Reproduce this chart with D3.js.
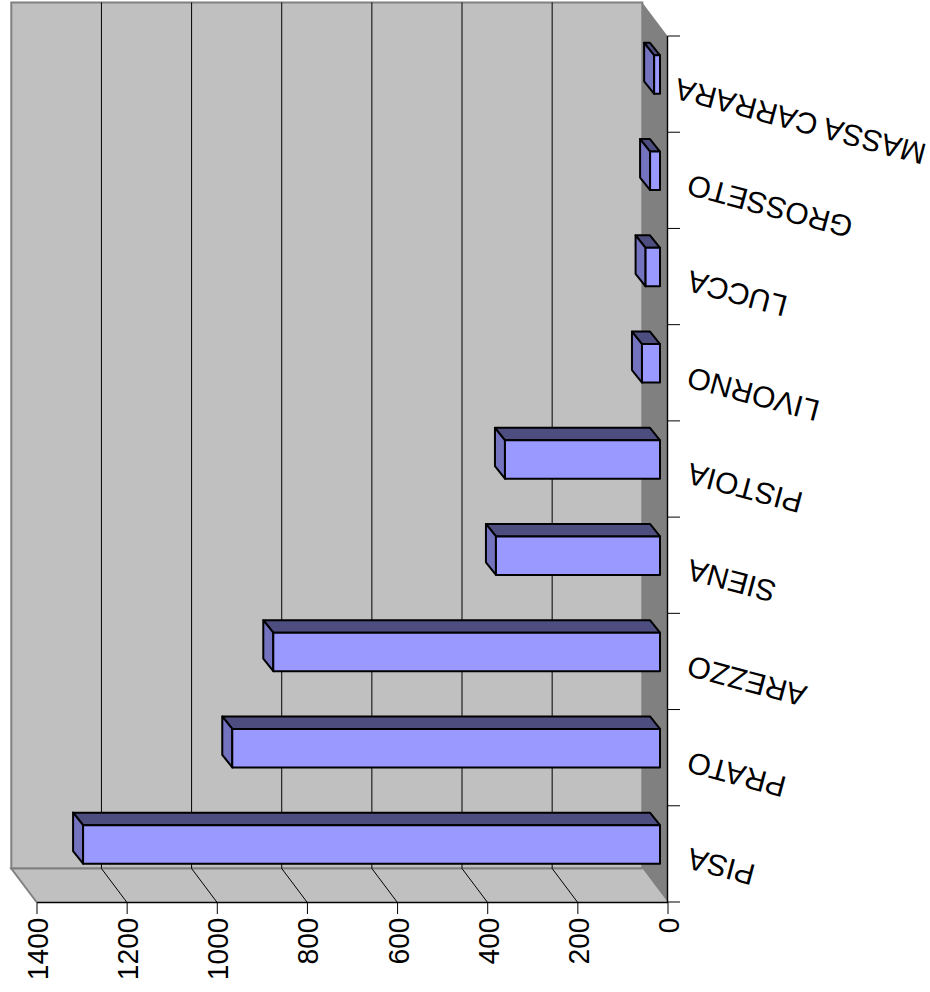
<!DOCTYPE html>
<html>
<head>
<meta charset="utf-8">
<script src="https://cdn.jsdelivr.net/npm/d3@7"></script>
<style>
  html, body { margin: 0; padding: 0; background: #fff; }
  svg { display: block; }
  text { font-family: "Liberation Sans", Arial, sans-serif; fill: #000; }
</style>
</head>
<body>
<div id="chart"></div>
<script>
var categories = ['PISA', 'PRATO', 'AREZZO', 'SIENA', 'PISTOIA', 'LIVORNO', 'LUCCA', 'GROSSETO', 'MASSA CARRARA'];
var values = [1280, 949, 858, 364, 344, 40, 32, 22, 13];
var valueTicks = [0, 200, 400, 600, 800, 1000, 1200, 1400];

var width = 930, height = 992;
var floorY = 902, topY = 36;
// depth of the 3d box, and of the bars inside it
var depthX = -25.2, depthY = -33.5;
var barShiftX = -7.5, barShiftY = -9.5;
var barDepthX = -10, barDepthY = -12.5;

var x = d3.scaleLinear().domain([0, 1400]).range([667.5, 36.5]);
var y = d3.scaleBand().domain(categories).range([floorY, topY]).paddingInner(0.6).paddingOuter(0.3);
var step = y.step();

var svg = d3.select('#chart').append('svg').attr('width', width).attr('height', height);

function pts(a) {
    return a.map(function (p) { return p.join(','); }).join(' ');
}

// walls and floor
var left = x(1400), right = x(0);
svg.append('polygon').attr('fill', '#c0c0c0').attr('stroke', '#808080').attr('stroke-width', 2)
    .attr('points', pts([[left + depthX, topY + depthY], [right + depthX, topY + depthY], [right + depthX, floorY + depthY], [left + depthX, floorY + depthY]]));
svg.append('polygon').attr('fill', '#c0c0c0')
    .attr('points', pts([[left + depthX, floorY + depthY], [right + depthX, floorY + depthY], [right, floorY], [left, floorY]]));
svg.append('polyline').attr('fill', 'none').attr('stroke', '#808080').attr('stroke-width', 2)
    .attr('points', pts([[left, floorY], [left + depthX, floorY + depthY], [right + depthX, floorY + depthY]]));
svg.append('polygon').attr('fill', '#808080')
    .attr('points', pts([[right + depthX, topY + depthY], [right, topY], [right, floorY], [right + depthX, floorY + depthY]]));

// gridlines
var grid = valueTicks.filter(function (d) { return d > 0 && d < 1400; });
svg.append('g').selectAll('polyline').data(grid).enter().append('polyline')
    .attr('fill', 'none').attr('stroke', '#000').attr('stroke-width', 1)
    .attr('points', function (d) {
        var gx = x(d);
        return pts([[gx + depthX, topY + depthY], [gx + depthX, floorY + depthY], [gx, floorY]]);
    });

// axes
var xAxis = svg.append('g').attr('transform', 'translate(0,' + floorY + ')')
    .call(d3.axisBottom(x).tickValues(valueTicks).tickSize(12).tickSizeOuter(0).tickFormat(d3.format('d')));
xAxis.select('.domain').attr('stroke', '#000').attr('stroke-width', 1.4);
xAxis.selectAll('.tick line').attr('stroke', '#000').attr('stroke-width', 1);
xAxis.selectAll('.tick text')
    .attr('font-size', 30)
    .attr('text-anchor', 'end')
    .attr('transform', 'translate(0.5,15.5) rotate(-90) scale(0.94,1)')
    .attr('x', 0).attr('y', 0).attr('dy', '0.35em');

var yAxis = svg.append('g').attr('transform', 'translate(' + right + ',0)');
yAxis.append('line').attr('y1', topY).attr('y2', floorY).attr('stroke', '#000').attr('stroke-width', 1.4);
yAxis.selectAll('.tk').data(d3.range(categories.length + 1)).enter().append('line')
    .attr('class', 'tk')
    .attr('x1', 0).attr('x2', 12.5)
    .attr('y1', function (i) { return floorY - i * step; })
    .attr('y2', function (i) { return floorY - i * step; })
    .attr('stroke', '#000').attr('stroke-width', 1);

// category labels, upside down with a small tilt; long ones get pushed back from the right edge
var tilt = 15 * Math.PI / 180;
svg.append('g').selectAll('text').data(categories).enter().append('text')
    .attr('font-size', 30)
    .attr('text-anchor', 'end')
    .attr('dy', '0.35em')
    .text(function (d) { return d; })
    .attr('transform', function (d) {
        var len = this.getComputedTextLength() * Math.cos(tilt);
        var lx = Math.min(688, 925 - len);
        return 'translate(' + lx + ',' + (y(d) + y.bandwidth() / 2 + 4) + ') rotate(195)';
    });

// bars
var data = categories.map(function (c, i) { return { name: c, value: values[i] }; });
var bars = svg.append('g').selectAll('g').data(data).enter().append('g')
    .attr('stroke', '#000').attr('stroke-width', 2).attr('stroke-linejoin', 'round');

function box(d) {
    var t = y(d.name) + barShiftY;
    return { x0: x(d.value) + barShiftX, x1: x(0) + barShiftX, y0: t, y1: t + y.bandwidth() };
}
bars.append('polygon').attr('fill', '#4d4d80').attr('points', function (d) {
    var b = box(d);
    return pts([[b.x0, b.y0], [b.x0 + barDepthX, b.y0 + barDepthY], [b.x1 + barDepthX, b.y0 + barDepthY], [b.x1, b.y0]]);
});
bars.append('polygon').attr('fill', '#7373bf').attr('points', function (d) {
    var b = box(d);
    return pts([[b.x0, b.y0], [b.x0 + barDepthX, b.y0 + barDepthY], [b.x0 + barDepthX, b.y1 + barDepthY], [b.x0, b.y1]]);
});
bars.append('rect').attr('fill', '#9999ff')
    .attr('x', function (d) { return box(d).x0; })
    .attr('y', function (d) { return box(d).y0; })
    .attr('width', function (d) { var b = box(d); return b.x1 - b.x0; })
    .attr('height', function (d) { var b = box(d); return b.y1 - b.y0; });
</script>
</body>
</html>
